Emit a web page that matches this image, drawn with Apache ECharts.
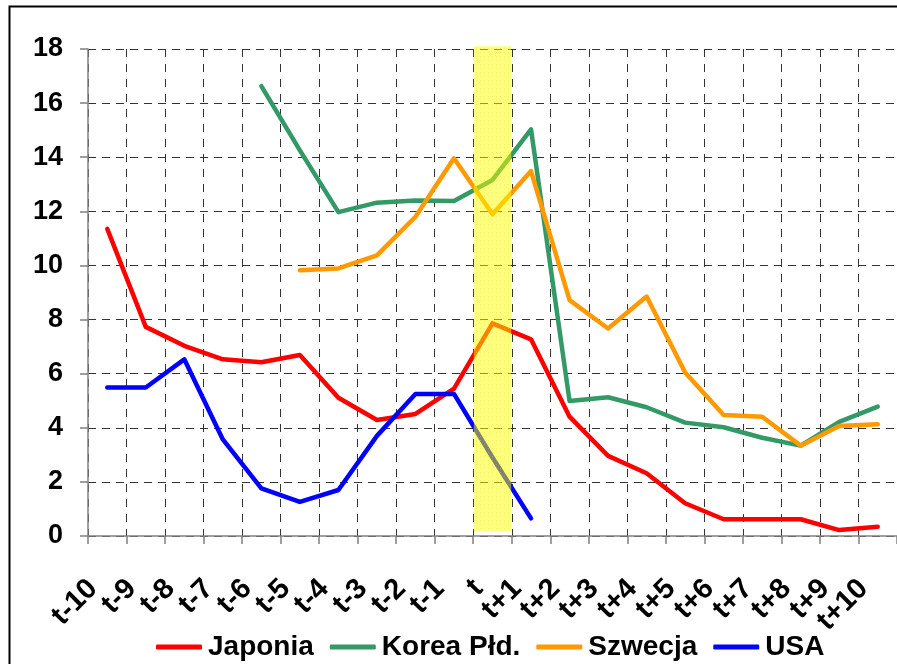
<!DOCTYPE html>
<html>
<head>
<meta charset="utf-8">
<script src="https://cdn.jsdelivr.net/npm/echarts@6/dist/echarts.min.js"></script>
<style>
  html, body { margin: 0; padding: 0; background: #fff; }
  #chart { width: 897px; height: 664px; }
</style>
</head>
<body>
<div id="chart"></div>
<script>
// Periods around the crisis year t
const categories = ['t-10','t-9','t-8','t-7','t-6','t-5','t-4','t-3','t-2','t-1','t',
                    't+1','t+2','t+3','t+4','t+5','t+6','t+7','t+8','t+9','t+10'];

const japonia = [11.35, 7.73, 7.03, 6.53, 6.42, 6.69, 5.11, 4.29, 4.51, 5.45, 7.86,
                 7.27, 4.41, 2.96, 2.32, 1.21, 0.62, 0.62, 0.62, 0.22, 0.34];
const korea   = [null, null, null, null, 16.63, 14.25, 11.97, 12.32, 12.40, 12.38, 13.16,
                 15.03, 4.99, 5.13, 4.76, 4.19, 4.02, 3.63, 3.34, 4.22, 4.78];
const szwecja = [null, null, null, null, null, 9.82, 9.89, 10.37, 11.80, 13.96, 11.89,
                 13.49, 8.72, 7.67, 8.85, 6.04, 4.47, 4.41, 3.34, 4.07, 4.13];
const usa     = [5.49, 5.49, 6.53, 3.57, 1.76, 1.26, 1.70, 3.70, 5.25, 5.25, 2.90,
                 0.65, null, null, null, null, null, null, null, null, null];

// Highlighted crisis period: category and vertical extent of the band
const crisisPeriod = 't';
const bandRange = [0.18, 18.1];

const yTicks = { min: 0, max: 18, interval: 2 };

const seriesNames = ['Japonia', 'Korea Płd.', 'Szwecja', 'USA'];
const seriesColors = ['#FF0000', '#339966', '#FF9900', '#0000FF'];
const seriesData = [japonia, korea, szwecja, usa];

const FONT = '"Liberation Sans", Arial, sans-serif';

const bandBase = categories.map(c => (c === crisisPeriod ? bandRange[0] : null));
const bandSize = categories.map(c => (c === crisisPeriod ? bandRange[1] - bandRange[0] : null));

const lineSeries = seriesNames.map((name, i) => ({
  name: name,
  type: 'line',
  data: seriesData[i],
  symbol: 'none',
  connectNulls: false,
  z: 2,
  color: seriesColors[i],
  lineStyle: { width: 4.5, color: seriesColors[i], cap: 'round', join: 'round' }
}));

const chart = echarts.init(document.getElementById('chart'), null, { renderer: 'canvas' });

chart.setOption({
  animation: false,
  backgroundColor: '#ffffff',
  grid: { left: 88, right: 0, top: 49, bottom: 128, containLabel: false },
  graphic: [{
    type: 'rect',
    shape: { x: 9.5, y: 6.5, width: 1000, height: 1000 },
    style: { fill: 'none', stroke: '#000', lineWidth: 2 },
    silent: true,
    z: 100
  }],
  legend: {
    data: seriesNames,
    left: 151,
    top: 628,
    itemWidth: 46,
    itemHeight: 5,
    itemGap: 16,
    icon: 'roundRect',
    textStyle: { fontFamily: FONT, fontWeight: 'bold', fontSize: 28, color: '#000', padding: [0, 0, 0, 1] }
  },
  xAxis: {
    type: 'category',
    data: categories,
    boundaryGap: true,
    axisLine: { lineStyle: { color: '#808080', width: 1.5 } },
    axisTick: { show: true, length: 8, lineStyle: { color: '#808080', width: 1.5 } },
    axisLabel: {
      interval: 0,
      rotate: 45,
      margin: 34,
      padding: [0, 20, 0, 0],
      fontFamily: FONT, fontWeight: 'bold', fontSize: 29, color: '#000'
    },
    splitLine: { show: true, interval: 0, lineStyle: { color: '#333333', width: 1, type: [8, 7] } }
  },
  yAxis: {
    type: 'value',
    min: yTicks.min,
    max: yTicks.max,
    interval: yTicks.interval,
    axisLine: { show: true, lineStyle: { color: '#808080', width: 1.5 } },
    axisTick: { show: true, length: 8, lineStyle: { color: '#808080', width: 1.5 } },
    axisLabel: { margin: 25, fontFamily: FONT, fontWeight: 'bold', fontSize: 27, color: '#000' },
    splitLine: { show: true, lineStyle: { color: '#333333', width: 1, type: [8, 6] } }
  },
  series: lineSeries.concat([
    {
      name: 'bandBase',
      type: 'bar',
      stack: 'band',
      data: bandBase,
      barWidth: '97%',
      itemStyle: { color: 'rgba(0,0,0,0)' },
      silent: true,
      clip: false,
      z: 3
    },
    {
      name: 'band',
      type: 'bar',
      stack: 'band',
      data: bandSize,
      barWidth: '97%',
      itemStyle: {
        color: 'rgba(255,255,0,0.5)',
        decal: {
          symbol: 'rect',
          symbolSize: 1,
          color: 'rgba(230,220,0,0.35)',
          dashArrayX: [1, 3],
          dashArrayY: [1, 3],
          rotation: 0
        }
      },
      silent: true,
      clip: false,
      z: 3
    }
  ])
});
</script>
</body>
</html>
